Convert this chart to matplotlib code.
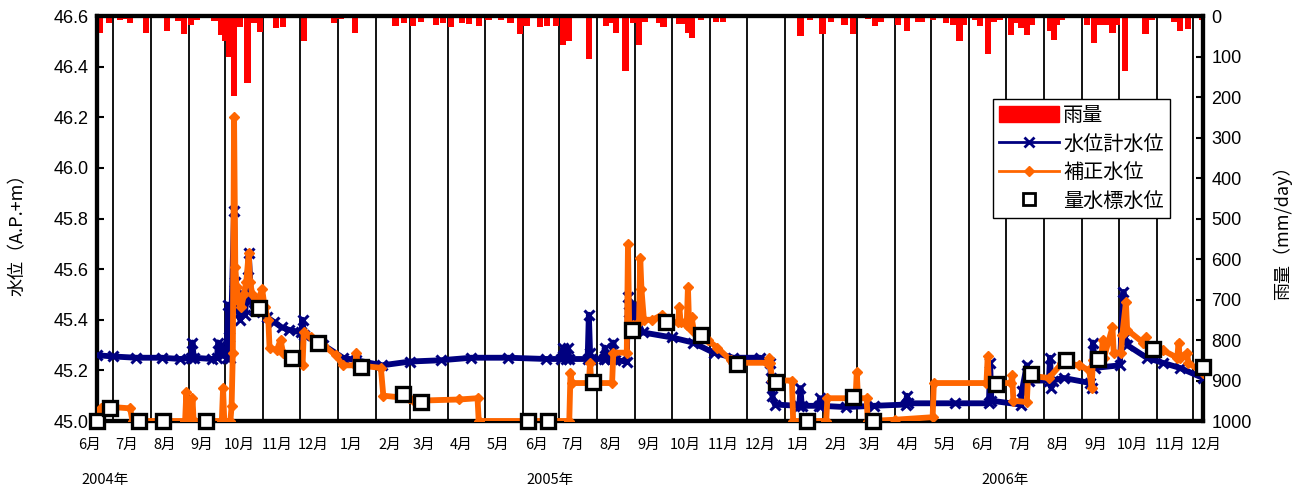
import numpy as np
import matplotlib
matplotlib.use("Agg")
import matplotlib.pyplot as plt
from matplotlib.patches import Patch
from matplotlib.lines import Line2D

plt.rcParams['font.family'] = ['Liberation Sans', 'Noto Sans CJK JP', 'DejaVu Sans']
JP = ['Noto Sans CJK JP', 'DejaVu Sans']

# === DATA ===
# daily rainfall (mm/day), only the rainy days
rain_dates = [
    "2004-06-20", "2004-06-24", "2004-06-28", "2004-07-07", "2004-07-11", "2004-07-15",
    "2004-07-28", "2004-08-14", "2004-08-19", "2004-08-23", "2004-08-28", "2004-09-03",
    "2004-09-08", "2004-09-22", "2004-09-27", "2004-10-01", "2004-10-04", "2004-10-08",
    "2004-10-13", "2004-10-19", "2004-10-24", "2004-10-29", "2004-11-11", "2004-11-17",
    "2004-12-04", "2004-12-29", "2005-01-03", "2005-01-15", "2005-01-24", "2005-02-07",
    "2005-02-17", "2005-02-24", "2005-03-03", "2005-03-10", "2005-03-22", "2005-03-28",
    "2005-04-03", "2005-04-12", "2005-04-18", "2005-04-26", "2005-05-04", "2005-05-14",
    "2005-05-22", "2005-05-30", "2005-06-04", "2005-06-15", "2005-06-21", "2005-06-28",
    "2005-07-04", "2005-07-09", "2005-07-25", "2005-08-08", "2005-08-12", "2005-08-16",
    "2005-08-24", "2005-08-30", "2005-09-04", "2005-09-09", "2005-09-20", "2005-09-24",
    "2005-10-07", "2005-10-10", "2005-10-14", "2005-10-17", "2005-10-25", "2005-11-06",
    "2005-11-12", "2005-12-04", "2006-01-02", "2006-01-14", "2006-01-22", "2006-02-01",
    "2006-02-08", "2006-02-19", "2006-02-26", "2006-03-10", "2006-03-16", "2006-03-21",
    "2006-04-04", "2006-04-11", "2006-04-20", "2006-04-23", "2006-05-02", "2006-05-13",
    "2006-05-19", "2006-05-24", "2006-05-28", "2006-06-06", "2006-06-10", "2006-06-16",
    "2006-06-21", "2006-06-26", "2006-07-05", "2006-07-09", "2006-07-13", "2006-07-18",
    "2006-07-22", "2006-08-06", "2006-08-09", "2006-08-12", "2006-08-16", "2006-08-24",
    "2006-09-05", "2006-09-11", "2006-09-16", "2006-09-21", "2006-09-26", "2006-09-30",
    "2006-10-06", "2006-10-23", "2006-10-28", "2006-11-15", "2006-11-20", "2006-11-27",
    "2006-12-08",
]
rain_mm = [
    41, 5, 16, 10, 8, 16,
    41, 36, 5, 13, 44, 22,
    11, 12, 47, 61, 100, 197,
    26, 165, 18, 39, 30, 26,
    61, 18, 8, 41, 3, 3,
    25, 16, 25, 14, 22, 16,
    26, 16, 20, 25, 11, 10,
    16, 44, 25, 26, 25, 25,
    72, 61, 107, 25, 18, 41,
    135, 18, 72, 14, 16, 26,
    20, 20, 41, 55, 10, 14,
    14, 3, 3, 49, 11, 44,
    14, 22, 44, 8, 25, 14,
    22, 36, 14, 14, 10, 18,
    22, 61, 22, 10, 25, 94,
    14, 10, 47, 16, 30, 47,
    22, 36, 58, 22, 10, 5,
    22, 66, 22, 22, 41, 22,
    135, 44, 10, 14, 36, 32,
    10,
]

# water level gauge (水位計水位)
gauge_dates = [
    "2004-06-18", "2004-07-01", "2004-07-20", "2004-08-10", "2004-08-25", "2004-09-03",
    "2004-09-04", "2004-09-05", "2004-09-20", "2004-09-24", "2004-09-25", "2004-09-27",
    "2004-09-29", "2004-10-02", "2004-10-03", "2004-10-04", "2004-10-05", "2004-10-08",
    "2004-10-09", "2004-10-11", "2004-10-13", "2004-10-15", "2004-10-17", "2004-10-19",
    "2004-10-20", "2004-10-22", "2004-10-24", "2004-10-27", "2004-10-31", "2004-11-04",
    "2004-11-10", "2004-11-16", "2004-11-22", "2004-12-02", "2004-12-03", "2004-12-04",
    "2004-12-20", "2005-01-05", "2005-01-16", "2005-02-06", "2005-03-01", "2005-03-26",
    "2005-04-20", "2005-05-20", "2005-06-20", "2005-07-02", "2005-07-04", "2005-07-06",
    "2005-07-08", "2005-07-09", "2005-07-24", "2005-07-25", "2005-07-26", "2005-07-27",
    "2005-08-06", "2005-08-07", "2005-08-08", "2005-08-13", "2005-08-14", "2005-08-15",
    "2005-08-25", "2005-08-26", "2005-08-27", "2005-08-29", "2005-08-31", "2005-09-01",
    "2005-09-07", "2005-10-01", "2005-10-18", "2005-11-04", "2005-11-20", "2005-12-12",
    "2005-12-20", "2005-12-21", "2005-12-22", "2005-12-24", "2006-01-13", "2006-01-14",
    "2006-01-15", "2006-01-29", "2006-01-30", "2006-01-31", "2006-02-20", "2006-03-15",
    "2006-04-10", "2006-04-11", "2006-04-12", "2006-05-20", "2006-06-17", "2006-06-18",
    "2006-06-19", "2006-07-13", "2006-07-14", "2006-07-18", "2006-07-20", "2006-08-05",
    "2006-08-06", "2006-08-07", "2006-08-08", "2006-08-17", "2006-09-08", "2006-09-09",
    "2006-09-10", "2006-09-12", "2006-10-02", "2006-10-05", "2006-10-06", "2006-10-08",
    "2006-10-24", "2006-11-06", "2006-11-20", "2006-12-09",
]
gauge_level = [
    45.26, 45.255, 45.25, 45.25, 45.245, 45.25,
    45.31, 45.25, 45.245, 45.25, 45.31, 45.30,
    45.26, 45.25, 45.46, 45.33, 45.25, 45.83,
    45.55, 45.45, 45.40, 45.50, 45.42, 45.57,
    45.665, 45.48, 45.44, 45.46, 45.43, 45.41,
    45.39, 45.37, 45.36, 45.35, 45.40, 45.34,
    45.30, 45.25, 45.24, 45.22, 45.235, 45.24,
    45.25, 45.25, 45.245, 45.245, 45.29, 45.245,
    45.29, 45.245, 45.245, 45.42, 45.27, 45.245,
    45.245, 45.29, 45.245, 45.245, 45.31, 45.24,
    45.235, 45.49, 45.43, 45.38, 45.46, 45.41,
    45.35, 45.33, 45.31, 45.27, 45.25, 45.25,
    45.23, 45.17, 45.10, 45.065, 45.06, 45.13,
    45.06, 45.06, 45.09, 45.06, 45.055, 45.06,
    45.065, 45.10, 45.07, 45.07, 45.07, 45.23,
    45.08, 45.065, 45.12, 45.22, 45.16, 45.16,
    45.25, 45.13, 45.16, 45.17, 45.15, 45.13,
    45.31, 45.21, 45.22, 45.51, 45.33, 45.30,
    45.25, 45.23, 45.21, 45.17,
]

# corrected level (補正水位)
corr_dates = [
    "2004-06-18", "2004-06-21", "2004-07-01", "2004-07-15", "2004-07-17", "2004-08-10",
    "2004-08-29", "2004-08-30", "2004-08-31", "2004-09-03", "2004-09-04", "2004-09-05",
    "2004-09-28", "2004-09-29", "2004-09-30", "2004-10-05", "2004-10-06", "2004-10-07",
    "2004-10-08", "2004-10-09", "2004-10-10", "2004-10-12", "2004-10-14", "2004-10-16",
    "2004-10-18", "2004-10-20", "2004-10-21", "2004-10-23", "2004-10-26", "2004-10-31",
    "2004-11-02", "2004-11-05", "2004-11-06", "2004-11-12", "2004-11-15", "2004-11-17",
    "2004-11-24", "2004-12-03", "2004-12-04", "2004-12-10", "2004-12-20", "2004-12-30",
    "2005-01-05", "2005-01-15", "2005-01-16", "2005-01-17", "2005-02-05", "2005-02-07",
    "2005-02-28", "2005-03-04", "2005-04-10", "2005-04-25", "2005-04-26", "2005-07-09",
    "2005-07-10", "2005-07-11", "2005-07-25", "2005-07-26", "2005-07-27", "2005-08-13",
    "2005-08-14", "2005-08-25", "2005-08-26", "2005-08-27", "2005-08-30", "2005-09-04",
    "2005-09-05", "2005-09-06", "2005-09-08", "2005-09-15", "2005-09-23", "2005-09-28",
    "2005-10-06", "2005-10-07", "2005-10-08", "2005-10-13", "2005-10-14", "2005-10-15",
    "2005-10-17", "2005-10-19", "2005-10-30", "2005-11-07", "2005-11-18", "2005-11-20",
    "2005-12-18", "2005-12-19", "2005-12-20", "2005-12-22", "2006-01-07", "2006-01-08",
    "2006-02-04", "2006-02-05", "2006-02-28", "2006-03-01", "2006-03-02", "2006-03-09",
    "2006-03-10", "2006-04-01", "2006-05-02", "2006-05-03", "2006-06-15", "2006-06-16",
    "2006-06-17", "2006-07-05", "2006-07-06", "2006-07-07", "2006-07-18", "2006-07-19",
    "2006-08-05", "2006-08-16", "2006-08-30", "2006-09-07", "2006-09-09", "2006-09-10",
    "2006-09-17", "2006-09-18", "2006-09-19", "2006-09-26", "2006-09-27", "2006-10-03",
    "2006-10-04", "2006-10-07", "2006-10-08", "2006-10-21", "2006-10-23", "2006-10-24",
    "2006-11-06", "2006-11-18", "2006-11-19", "2006-11-20", "2006-11-26", "2006-11-27",
    "2006-12-09",
]
corr_level = [
    45.00, 45.05, 45.055, 45.05, 45.00, 45.00,
    45.00, 45.115, 45.00, 45.00, 45.09, 45.00,
    45.00, 45.13, 45.00, 45.00, 45.06, 45.27,
    46.20, 45.61, 45.53, 45.47, 45.45, 45.50,
    45.55, 45.665, 45.55, 45.50, 45.46, 45.52,
    45.45, 45.40, 45.29, 45.28, 45.32, 45.27,
    45.25, 45.22, 45.35, 45.33, 45.30, 45.26,
    45.22, 45.22, 45.27, 45.22, 45.21, 45.10,
    45.09, 45.08, 45.085, 45.09, 45.00, 45.00,
    45.19, 45.15, 45.15, 45.23, 45.15, 45.15,
    45.27, 45.27, 45.70, 45.36, 45.38, 45.39,
    45.645, 45.52, 45.40, 45.40, 45.42, 45.39,
    45.39, 45.45, 45.39, 45.38, 45.53, 45.37,
    45.41, 45.35, 45.32, 45.29, 45.24, 45.23,
    45.23, 45.25, 45.23, 45.16, 45.16, 45.00,
    45.00, 45.09, 45.09, 45.195, 45.09, 45.09,
    45.00, 45.005, 45.015, 45.15, 45.15, 45.255,
    45.15, 45.15, 45.18, 45.08, 45.075, 45.18,
    45.17, 45.23, 45.22, 45.20, 45.13, 45.24,
    45.25, 45.32, 45.25, 45.37, 45.27, 45.27,
    45.34, 45.47, 45.36, 45.31, 45.33, 45.30,
    45.28, 45.25, 45.31, 45.25, 45.27, 45.23,
    45.19,
]

# staff gauge readings (量水標水位)
staff_dates = [
    "2004-06-18", "2004-06-29", "2004-07-22", "2004-08-11", "2004-09-15", "2004-10-28",
    "2004-11-24", "2004-12-16", "2005-01-20", "2005-02-23", "2005-03-10", "2005-06-05",
    "2005-06-22", "2005-07-28", "2005-08-29", "2005-09-26", "2005-10-25", "2005-11-23",
    "2005-12-25", "2006-01-19", "2006-02-26", "2006-03-14", "2006-06-23", "2006-07-21",
    "2006-08-19", "2006-09-14", "2006-10-29", "2006-12-09",
]
staff_level = [
    45.00, 45.05, 45.00, 45.00, 45.00, 45.445,
    45.25, 45.31, 45.215, 45.105, 45.075, 45.00,
    45.00, 45.155, 45.36, 45.39, 45.34, 45.225,
    45.155, 45.00, 45.095, 45.00, 45.145, 45.185,
    45.24, 45.245, 45.285, 45.215,
]

month_starts = np.arange(np.datetime64("2004-07"), np.datetime64("2007-01"))
label_months = np.arange(np.datetime64("2004-06"), np.datetime64("2007-01"))
year_labels = ["2004年", "2005年", "2006年"]
year_pos = ["2004-06-05", "2005-06-04", "2006-06-11"]

def d(lst):
    return np.array(lst, dtype="datetime64[D]")

# === FIGURE ===
fig = plt.figure(figsize=(12.99, 4.90), dpi=100)
ax = fig.add_axes([0.0747, 0.1408, 0.8514, 0.8265])
ax2 = ax.twinx()
ax.set_zorder(ax2.get_zorder() + 1)
ax.patch.set_visible(False)

# rain on secondary axis (inverted)
for m in month_starts:
    ax2.axvline(m.astype("datetime64[D]"), color="black", lw=1.3, zorder=1)
ax2.bar(d(rain_dates), rain_mm, width=5, color="#FF0000", align="center", zorder=2)
ax2.set_ylim(1000, 0)
ax2.set_yticks(np.arange(0, 1001, 100))
ax2.tick_params(axis="y", direction="in", length=5, width=1.5, labelsize=13, pad=6)
ax2.set_ylabel("雨量（mm/day）", family=JP, fontsize=13, rotation=90, va="center", ha="center")
ax2.yaxis.set_label_coords(1.0715, 0.475)

# water levels
ax.plot(d(gauge_dates), gauge_level, color="#000080", lw=4.2, marker="x", ms=7, mew=2.2, zorder=3)
ax.plot(d(corr_dates), corr_level, color="#FF6600", lw=4.2, marker="D", ms=5.5, zorder=4)
ax.plot(d(staff_dates), staff_level, ls="none", marker="s", ms=9.5, mfc="white", mec="black", mew=2.4, zorder=5, clip_on=False)

ax.set_xlim(np.datetime64("2004-06-18"), np.datetime64("2006-12-09"))
ax.set_ylim(45.0, 46.6)
ax.set_yticks(np.arange(45.0, 46.61, 0.2))
ax.set_yticklabels([f"{v:.1f}" for v in np.arange(45.0, 46.61, 0.2)])
ax.tick_params(axis="y", direction="in", length=5, width=1.5, labelsize=13, pad=6)
ax.set_xticks(month_starts.astype("datetime64[D]"))
ax.set_xticklabels([])
ax.tick_params(axis="x", length=0)
ax.set_ylabel("水位（A.P.+m）", family=JP, fontsize=13, va="center", ha="center")
ax.yaxis.set_label_coords(-0.0714, 0.47)

for a in (ax, ax2):
    for s in a.spines.values():
        s.set_linewidth(3)
        s.set_color("black")

# month / year labels under the axis
for m in label_months:
    x = m.astype("datetime64[D]") + np.timedelta64(11, "D")
    ax.text(x, -0.059, f"{int(str(m)[5:7])}月", transform=ax.get_xaxis_transform(),
            ha="center", va="center", fontsize=10.5, family=JP, clip_on=False)
for lab, pos in zip(year_labels, year_pos):
    ax.text(np.datetime64(pos), -0.146, lab, transform=ax.get_xaxis_transform(),
            ha="left", va="center", fontsize=10.5, family=JP, clip_on=False)

# legend
handles = [
    Patch(facecolor="#FF0000", edgecolor="#FF0000"),
    Line2D([], [], color="#000080", lw=2, marker="x", ms=7, mew=2),
    Line2D([], [], color="#FF6600", lw=2, marker="D", ms=5),
    Line2D([], [], ls="none", marker="s", ms=8, mfc="white", mec="black", mew=2),
]
labels = ["雨量", "水位計水位", "補正水位", "量水標水位"]
leg = ax.legend(handles, labels, loc="upper left", bbox_to_anchor=(0.81, 0.795),
                prop={"family": JP, "size": 14.5}, frameon=True, fancybox=False,
                edgecolor="black", framealpha=1, handlelength=3.0, handleheight=0.9,
                handletextpad=0.2, labelspacing=0.38, borderpad=0.3, borderaxespad=0)
leg.get_frame().set_linewidth(1)

fig.savefig("out.png", dpi=100)
